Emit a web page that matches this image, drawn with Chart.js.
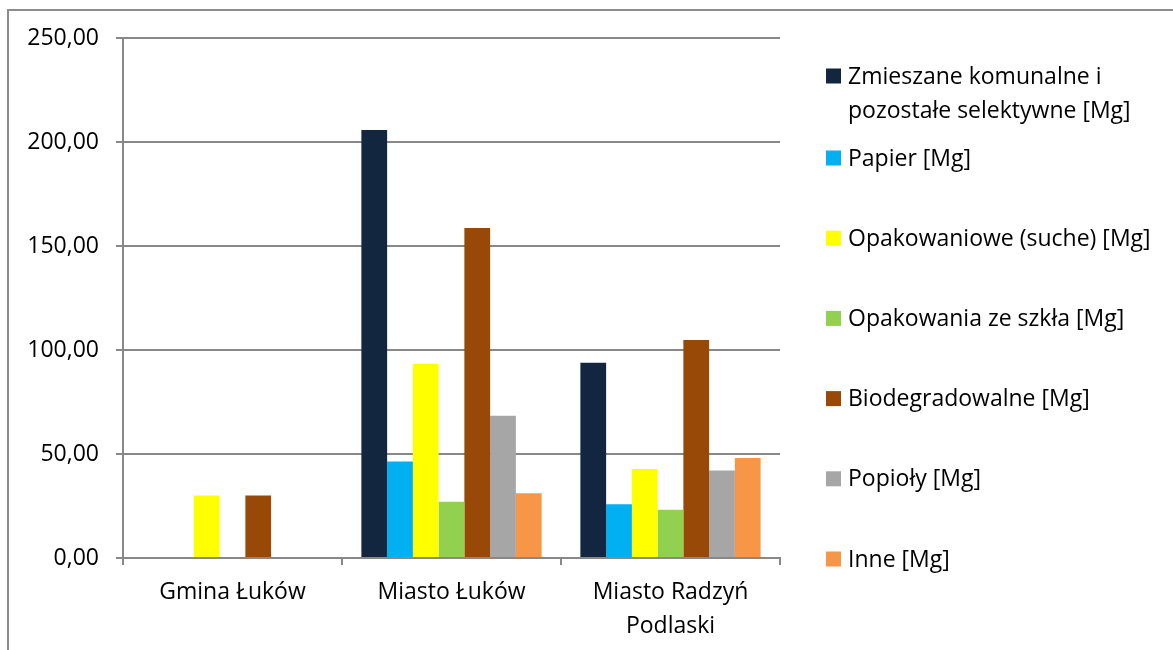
<!DOCTYPE html>
<html>
<head>
<meta charset="utf-8">
<script src="https://cdn.jsdelivr.net/npm/chart.js@4/dist/chart.umd.min.js"></script>
<style>
	html, body { margin: 0; padding: 0; background: #fff; }
	#wrap { position: relative; width: 1173px; height: 650px; overflow: hidden; }
	#frame { position: absolute; left: 7px; top: 9px; width: 1180px; height: 660px; border-left: 2px solid #8c8c8c; border-top: 2px solid #8c8c8c; box-sizing: border-box; }
	canvas { position: absolute; left: 0; top: 0; }
</style>
</head>
<body>
<div id="wrap">
	<div id="frame"></div>
	<canvas id="wasteChart" width="1173" height="650"></canvas>
</div>
<script>
const categories = ['Gmina Łuków', 'Miasto Łuków', ['Miasto Radzyń', 'Podlaski']];
const seriesNames = [
	'Zmieszane komunalne i pozostałe selektywne [Mg]',
	'Papier [Mg]',
	'Opakowaniowe (suche) [Mg]',
	'Opakowania ze szkła [Mg]',
	'Biodegradowalne [Mg]',
	'Popioły [Mg]',
	'Inne [Mg]'
];
const zmieszane = [null, 205.8, 93.9];
const papier = [null, 46.4, 25.8];
const opakowaniowe = [30.0, 93.4, 42.8];
const szklo = [null, 27.1, 23.2];
const biodegradowalne = [30.0, 158.7, 104.8];
const popioly = [null, 68.4, 42.1];
const inne = [null, 31.1, 48.1];
const yTicks = [0, 50, 100, 150, 200, 250];

const colors = ['#12263F', '#00B0F0', '#FFFF00', '#92D050', '#984807', '#A6A6A6', '#F79646'];
const values = [zmieszane, papier, opakowaniowe, szklo, biodegradowalne, popioly, inne];
const FONT = '"Open Sans", sans-serif';
const FONT_SIZE = 23;

// legend drawn by hand so the first entry can wrap onto two lines like in Excel
const sideLegend = {
	id: 'sideLegend',
	afterDraw(chart) {
		const ctx = chart.ctx;
		const lines = [
			['Zmieszane komunalne i', 'pozostałe selektywne [Mg]'],
			[seriesNames[1]], [seriesNames[2]], [seriesNames[3]],
			[seriesNames[4]], [seriesNames[5]], [seriesNames[6]]
		];
		ctx.save();
		ctx.font = FONT_SIZE + 'px ' + FONT;
		ctx.textBaseline = 'middle';
		chart.data.datasets.forEach((ds, i) => {
			const y = i === 0 ? 76 : 158 + (i - 1) * 80.2;
			ctx.fillStyle = ds.backgroundColor;
			ctx.fillRect(826, y - 7.5, 15, 15);
			ctx.fillStyle = '#000';
			lines[i].forEach((t, k) => ctx.fillText(t, 848, y + 1 + k * 34));
		});
		ctx.restore();
	}
};

new Chart(document.getElementById('wasteChart').getContext('2d'), {
	type: 'bar',
	data: {
		labels: categories,
		datasets: seriesNames.map((name, i) => ({
			label: name,
			data: values[i],
			backgroundColor: colors[i],
			borderWidth: 0,
			barPercentage: 1,
			categoryPercentage: 0.823
		}))
	},
	options: {
		responsive: false,
		maintainAspectRatio: false,
		animation: false,
		layout: { padding: { left: 0, top: 38, right: 393, bottom: 0 } },
		plugins: { legend: { display: false }, tooltip: { enabled: false } },
		scales: {
			x: {
				afterFit: s => { s.height = 92; },
				grid: { offset: true, drawOnChartArea: false, drawTicks: true, tickLength: 7, color: '#888', lineWidth: 2 },
				border: { color: '#888', width: 2 },
				ticks: { color: '#000', font: { family: FONT, size: FONT_SIZE, lineHeight: 1.45 }, padding: 11, maxRotation: 0 }
			},
			y: {
				min: 0,
				max: 250,
				afterFit: s => { s.width = 123; },
				afterBuildTicks: s => { s.ticks = yTicks.map(v => ({ value: v })); },
				grid: { color: '#888', lineWidth: 2, tickLength: 7 },
				border: { color: '#888', width: 2 },
				ticks: {
					color: '#000',
					font: { family: FONT, size: FONT_SIZE },
					padding: 17,
					callback: v => v.toFixed(2).replace('.', ',')
				}
			}
		}
	},
	plugins: [sideLegend]
});
</script>
</body>
</html>
